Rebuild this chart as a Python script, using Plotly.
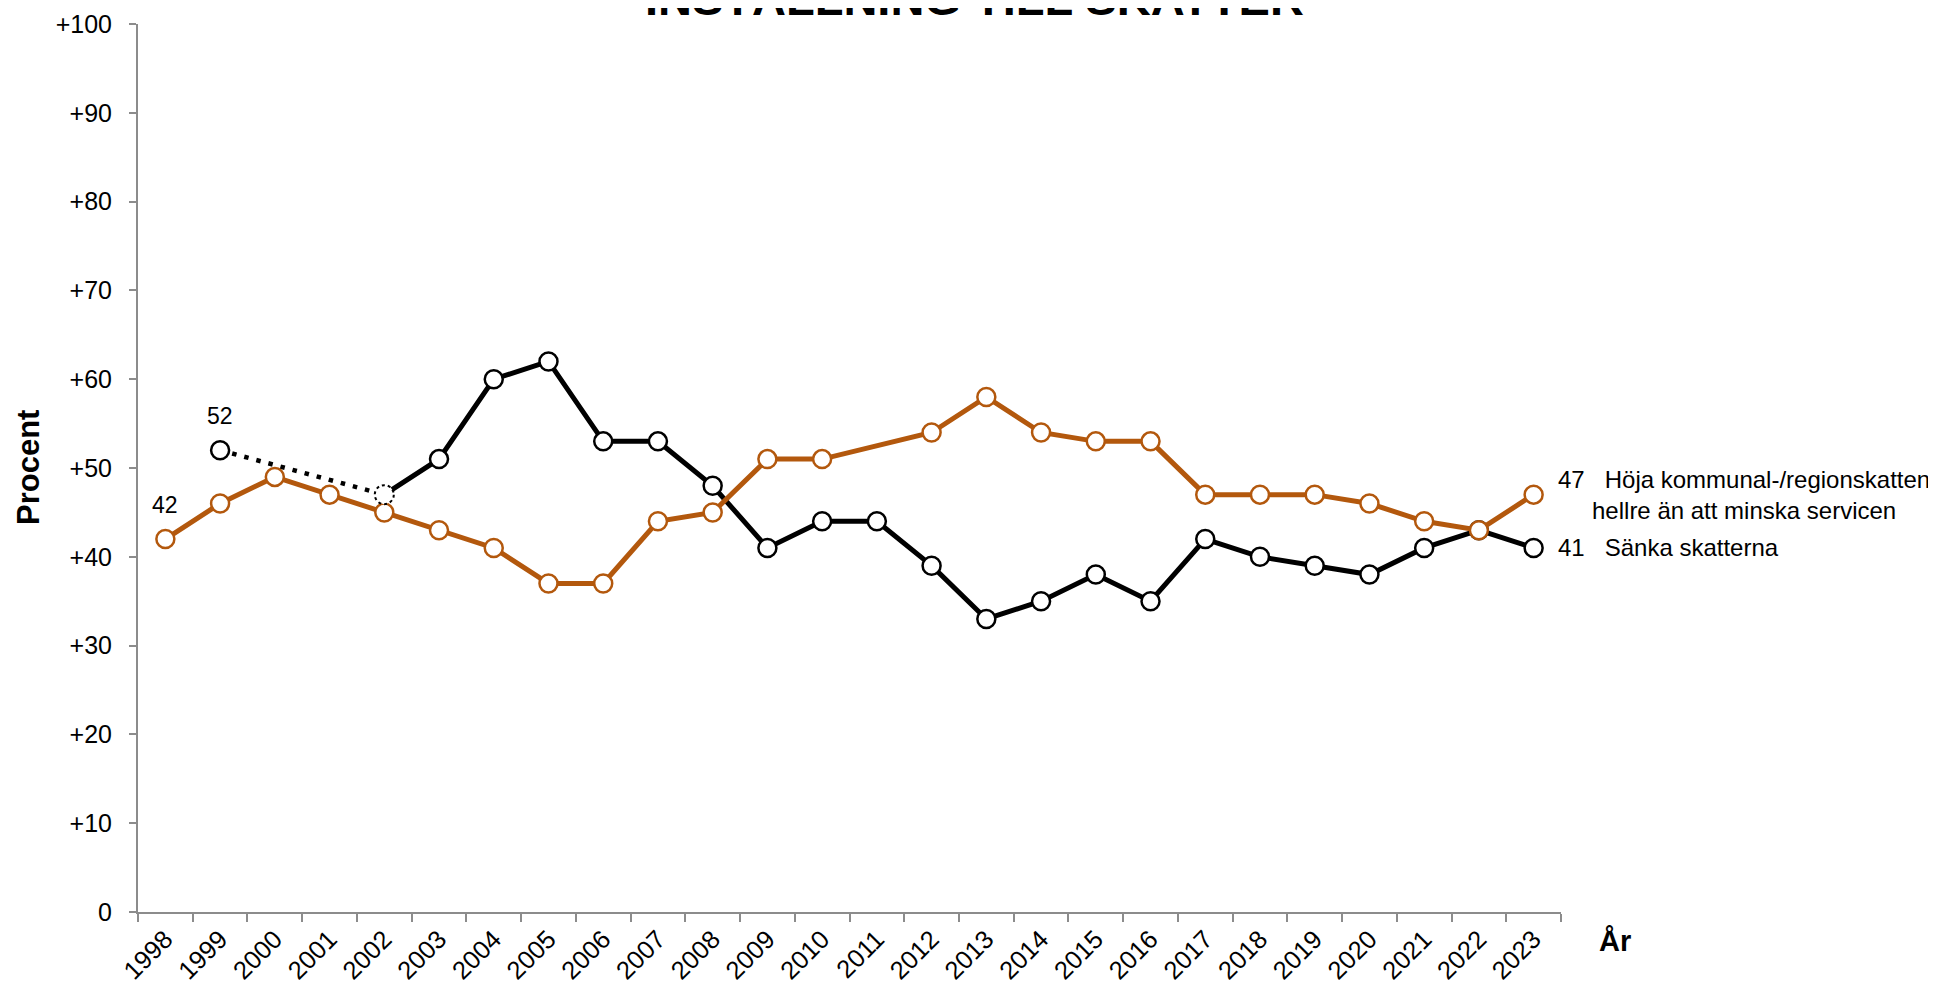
import plotly.graph_objects as go

# survey years and shares (procent)
years = list(range(1998, 2024))
hoja = [42, 46, 49, 47, 45, 43, 41, 37, 37, 44, 45, 51, 51, None, 54, 58, 54, 53, 53,
        47, 47, 47, 46, 44, 43, 47]
sanka = [None, 52, None, None, 47, 51, 60, 62, 53, 53, 48, 41, 44, 44, 39, 33, 35, 38, 35,
         42, 40, 39, 38, 41, 43, 41]
ytick_vals = list(range(0, 101, 10))
ytick_text = ["0"] + ["+%d" % v for v in ytick_vals[1:]]

hoja_label = "Höja kommunal-/regionskatten<br>hellre än att minska servicen"
sanka_label = "Sänka skatterna"
title = "INSTÄLLNING TILL SKATTER"

cats = [str(y) for y in years]
brk = years.index(2002)  # series changes from dotted to solid here

ORANGE = "#B3580D"
AXIS = "#8C8C8C"
FONT = "Liberation Sans, Arial, sans-serif"

fig = go.Figure()

# dotted part 1999-2002
fig.add_trace(go.Scatter(
    x=cats[1:brk + 1], y=sanka[1:brk + 1], mode="lines", connectgaps=True,
    line=dict(color="black", width=4.5, dash="4.5px,8px"), hoverinfo="skip"))

# solid part
fig.add_trace(go.Scatter(
    x=cats[brk:], y=sanka[brk:], mode="lines",
    line=dict(color="black", width=5)))

fig.add_trace(go.Scatter(
    x=cats, y=[v if i != brk else None for i, v in enumerate(sanka)], mode="markers",
    marker=dict(size=18, color="white", line=dict(color="black", width=2.5))))

fig.add_trace(go.Scatter(
    x=cats, y=hoja, mode="lines+markers", connectgaps=True,
    line=dict(color=ORANGE, width=5),
    marker=dict(size=18, color="white", line=dict(color=ORANGE, width=2.5))))

# dotted circle for the 2002 point
fig.add_shape(type="circle", xref="x", yref="y", xsizemode="pixel", ysizemode="pixel",
              xanchor=brk, yanchor=sanka[brk], x0=-9.5, x1=9.5, y0=-9.5, y1=9.5,
              line=dict(color="black", width=2, dash="dot"), fillcolor="white", layer="above")

ann = []
# first-value labels (category index as x)
i0 = next(i for i, v in enumerate(hoja) if v is not None)
ann.append(dict(x=i0, y=hoja[i0], text=str(hoja[i0]), showarrow=False,
                xanchor="center", yanchor="bottom", yshift=19, font=dict(size=23)))
i1 = next(i for i, v in enumerate(sanka) if v is not None)
ann.append(dict(x=i1, y=sanka[i1], text=str(sanka[i1]), showarrow=False,
                xanchor="center", yanchor="bottom", yshift=19, font=dict(size=23)))

# end labels
sp = "\u00a0" * 3
ann.append(dict(xref="paper", x=1, xanchor="left", xshift=-5, y=hoja[-1], yanchor="middle",
                text=str(hoja[-1]) + sp + hoja_label, showarrow=False, align="center",
                font=dict(size=24)))
ann.append(dict(xref="paper", x=1, xanchor="left", xshift=-5, y=sanka[-1], yanchor="middle",
                text=str(sanka[-1]) + sp + sanka_label, showarrow=False, align="left",
                font=dict(size=24)))

# axis titles and chart title
ann.append(dict(xref="paper", yref="paper", x=0, y=0.5, xanchor="center", yanchor="middle",
                xshift=-110, text="Procent",
                textangle=-90, showarrow=False, font=dict(size=31, weight="bold")))
ann.append(dict(xref="paper", yref="paper", x=1, y=0, xanchor="left", yanchor="top",
                xshift=36, yshift=-11, text="År", showarrow=False,
                font=dict(size=29, weight="bold")))
ann.append(dict(xref="paper", yref="paper", x=0.588, y=1, xanchor="center", yanchor="bottom",
                yshift=-3, text=title, showarrow=False, font=dict(size=47, weight="bold")))

fig.update_layout(
    width=1936, height=987,
    margin=dict(l=129.5, r=383, t=16, b=83),
    paper_bgcolor="white", plot_bgcolor="white",
    showlegend=False,
    font=dict(family=FONT, color="black", size=25),
    annotations=ann,
    xaxis=dict(type="category", categoryorder="array", categoryarray=cats,
               range=[-0.5, len(cats) - 0.5], tickson="boundaries", automargin=False,
               ticks="outside", ticklen=8, tickwidth=2, tickcolor=AXIS,
               showline=True, linecolor=AXIS, linewidth=2, showgrid=False,
               tickangle=-45, tickfont=dict(size=25.5)),
    yaxis=dict(range=[0, 100], tickvals=ytick_vals, ticktext=ytick_text, automargin=False,
               ticks="outside", ticklen=7, tickwidth=2, tickcolor=AXIS,
               showline=True, linecolor=AXIS, linewidth=2, showgrid=False, zeroline=False,
               tickfont=dict(size=25), ticklabelstandoff=12),
)

fig.write_html("out.html")
